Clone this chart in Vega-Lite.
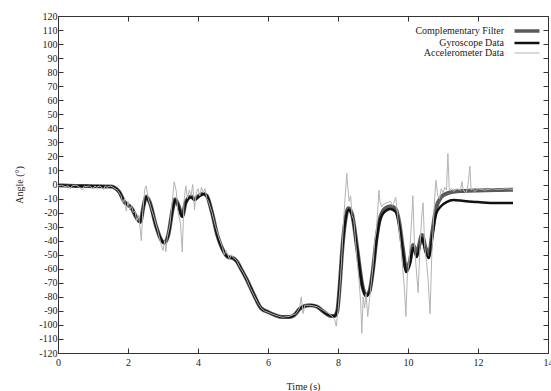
{
  "$schema": "https://vega.github.io/schema/vega-lite/v6.json",
  "width": 490,
  "height": 337,
  "autosize": {"type": "none"},
  "padding": {"left": 58, "top": 16, "right": 3, "bottom": 38},
  "background": "white",
  "config": {
    "view": {"stroke": "#333", "strokeWidth": 1},
    "font": "Liberation Serif",
    "axis": {"labelFont": "Liberation Serif", "titleFont": "Liberation Serif", "labelFontSize": 10, "titleFontSize": 10, "labelColor": "#222", "titleColor": "#222", "titleFontWeight": "normal", "domain": false, "grid": false, "tickColor": "#333", "tickSize": -5, "tickWidth": 1, "labelFlush": false, "labelOverlap": false},
    "legend": {"labelFont": "Liberation Serif", "labelFontSize": 10, "labelColor": "#222"}
  },
  "data": {"values": [
    {"s":"Complementary Filter","t":0,"v":-0.5},{"s":"Complementary Filter","t":0.5,"v":-1},{"s":"Complementary Filter","t":1.0,"v":-1.2},{"s":"Complementary Filter","t":1.5,"v":-1.5},{"s":"Complementary Filter","t":1.6,"v":-2},{"s":"Complementary Filter","t":1.75,"v":-5.3},{"s":"Complementary Filter","t":1.9,"v":-12.5},{"s":"Complementary Filter","t":2.0,"v":-14.6},{"s":"Complementary Filter","t":2.1,"v":-16.7},{"s":"Complementary Filter","t":2.25,"v":-24},{"s":"Complementary Filter","t":2.35,"v":-26.5},{"s":"Complementary Filter","t":2.45,"v":-14.5},{"s":"Complementary Filter","t":2.52,"v":-8.5},{"s":"Complementary Filter","t":2.62,"v":-12.5},{"s":"Complementary Filter","t":2.8,"v":-29.5},{"s":"Complementary Filter","t":2.95,"v":-39.5},{"s":"Complementary Filter","t":3.05,"v":-41.5},{"s":"Complementary Filter","t":3.15,"v":-36},{"s":"Complementary Filter","t":3.28,"v":-17},{"s":"Complementary Filter","t":3.35,"v":-10.5},{"s":"Complementary Filter","t":3.45,"v":-15.5},{"s":"Complementary Filter","t":3.55,"v":-22.5},{"s":"Complementary Filter","t":3.65,"v":-12.5},{"s":"Complementary Filter","t":3.8,"v":-8.5},{"s":"Complementary Filter","t":3.9,"v":-10.5},{"s":"Complementary Filter","t":4.0,"v":-8.5},{"s":"Complementary Filter","t":4.15,"v":-6.5},{"s":"Complementary Filter","t":4.25,"v":-8},{"s":"Complementary Filter","t":4.4,"v":-20},{"s":"Complementary Filter","t":4.55,"v":-36},{"s":"Complementary Filter","t":4.7,"v":-46},{"s":"Complementary Filter","t":4.85,"v":-51.6},{"s":"Complementary Filter","t":5.0,"v":-52.4},{"s":"Complementary Filter","t":5.1,"v":-54.5},{"s":"Complementary Filter","t":5.25,"v":-61},{"s":"Complementary Filter","t":5.4,"v":-68},{"s":"Complementary Filter","t":5.6,"v":-78.7},{"s":"Complementary Filter","t":5.8,"v":-88},{"s":"Complementary Filter","t":6.0,"v":-90.8},{"s":"Complementary Filter","t":6.2,"v":-93},{"s":"Complementary Filter","t":6.4,"v":-94.4},{"s":"Complementary Filter","t":6.6,"v":-94.4},{"s":"Complementary Filter","t":6.75,"v":-93},{"s":"Complementary Filter","t":6.9,"v":-88.7},{"s":"Complementary Filter","t":7.05,"v":-86.5},{"s":"Complementary Filter","t":7.2,"v":-86},{"s":"Complementary Filter","t":7.4,"v":-87},{"s":"Complementary Filter","t":7.6,"v":-90.8},{"s":"Complementary Filter","t":7.8,"v":-93.6},{"s":"Complementary Filter","t":7.9,"v":-93.6},{"s":"Complementary Filter","t":7.98,"v":-90},{"s":"Complementary Filter","t":8.05,"v":-71.6},{"s":"Complementary Filter","t":8.12,"v":-46.6},{"s":"Complementary Filter","t":8.2,"v":-27},{"s":"Complementary Filter","t":8.3,"v":-17},{"s":"Complementary Filter","t":8.4,"v":-21},{"s":"Complementary Filter","t":8.55,"v":-46},{"s":"Complementary Filter","t":8.7,"v":-72.5},{"s":"Complementary Filter","t":8.8,"v":-79},{"s":"Complementary Filter","t":8.9,"v":-76},{"s":"Complementary Filter","t":9.0,"v":-60.5},{"s":"Complementary Filter","t":9.1,"v":-38.5},{"s":"Complementary Filter","t":9.2,"v":-24},{"s":"Complementary Filter","t":9.35,"v":-17},{"s":"Complementary Filter","t":9.5,"v":-15.5},{"s":"Complementary Filter","t":9.65,"v":-17.5},{"s":"Complementary Filter","t":9.75,"v":-27},{"s":"Complementary Filter","t":9.85,"v":-45},{"s":"Complementary Filter","t":9.95,"v":-60},{"s":"Complementary Filter","t":10.05,"v":-55},{"s":"Complementary Filter","t":10.15,"v":-43},{"s":"Complementary Filter","t":10.25,"v":-49},{"s":"Complementary Filter","t":10.4,"v":-36},{"s":"Complementary Filter","t":10.5,"v":-45},{"s":"Complementary Filter","t":10.6,"v":-49},{"s":"Complementary Filter","t":10.7,"v":-33},{"s":"Complementary Filter","t":10.8,"v":-17},{"s":"Complementary Filter","t":10.95,"v":-9},{"s":"Complementary Filter","t":11.1,"v":-6.5},{"s":"Complementary Filter","t":11.3,"v":-5.2},{"s":"Complementary Filter","t":11.6,"v":-4.6},{"s":"Complementary Filter","t":12.0,"v":-4.2},{"s":"Complementary Filter","t":12.5,"v":-3.9},{"s":"Complementary Filter","t":13.0,"v":-3.7},
    {"s":"Gyroscope Data","t":0,"v":-0.5},{"s":"Gyroscope Data","t":0.5,"v":-1},{"s":"Gyroscope Data","t":1.0,"v":-1.2},{"s":"Gyroscope Data","t":1.5,"v":-1.5},{"s":"Gyroscope Data","t":1.6,"v":-2},{"s":"Gyroscope Data","t":1.75,"v":-5.3},{"s":"Gyroscope Data","t":1.9,"v":-12.5},{"s":"Gyroscope Data","t":2.0,"v":-14.6},{"s":"Gyroscope Data","t":2.1,"v":-16.7},{"s":"Gyroscope Data","t":2.25,"v":-24},{"s":"Gyroscope Data","t":2.35,"v":-27},{"s":"Gyroscope Data","t":2.45,"v":-15},{"s":"Gyroscope Data","t":2.52,"v":-9},{"s":"Gyroscope Data","t":2.62,"v":-13},{"s":"Gyroscope Data","t":2.8,"v":-29.5},{"s":"Gyroscope Data","t":2.95,"v":-39.5},{"s":"Gyroscope Data","t":3.05,"v":-41.7},{"s":"Gyroscope Data","t":3.15,"v":-36},{"s":"Gyroscope Data","t":3.28,"v":-17},{"s":"Gyroscope Data","t":3.35,"v":-11},{"s":"Gyroscope Data","t":3.45,"v":-16},{"s":"Gyroscope Data","t":3.55,"v":-23},{"s":"Gyroscope Data","t":3.65,"v":-13},{"s":"Gyroscope Data","t":3.8,"v":-9},{"s":"Gyroscope Data","t":3.9,"v":-11},{"s":"Gyroscope Data","t":4.0,"v":-9},{"s":"Gyroscope Data","t":4.15,"v":-6.8},{"s":"Gyroscope Data","t":4.25,"v":-8},{"s":"Gyroscope Data","t":4.4,"v":-20},{"s":"Gyroscope Data","t":4.55,"v":-36},{"s":"Gyroscope Data","t":4.7,"v":-46},{"s":"Gyroscope Data","t":4.85,"v":-51.6},{"s":"Gyroscope Data","t":5.0,"v":-52.4},{"s":"Gyroscope Data","t":5.1,"v":-54.5},{"s":"Gyroscope Data","t":5.25,"v":-61},{"s":"Gyroscope Data","t":5.4,"v":-68},{"s":"Gyroscope Data","t":5.6,"v":-78.7},{"s":"Gyroscope Data","t":5.8,"v":-88},{"s":"Gyroscope Data","t":6.0,"v":-90.8},{"s":"Gyroscope Data","t":6.2,"v":-93},{"s":"Gyroscope Data","t":6.4,"v":-94.4},{"s":"Gyroscope Data","t":6.6,"v":-94.4},{"s":"Gyroscope Data","t":6.75,"v":-93},{"s":"Gyroscope Data","t":6.9,"v":-88.7},{"s":"Gyroscope Data","t":7.05,"v":-86.5},{"s":"Gyroscope Data","t":7.2,"v":-86},{"s":"Gyroscope Data","t":7.4,"v":-87},{"s":"Gyroscope Data","t":7.6,"v":-90.8},{"s":"Gyroscope Data","t":7.8,"v":-93.6},{"s":"Gyroscope Data","t":7.9,"v":-93.6},{"s":"Gyroscope Data","t":7.98,"v":-90},{"s":"Gyroscope Data","t":8.05,"v":-71.6},{"s":"Gyroscope Data","t":8.12,"v":-46.6},{"s":"Gyroscope Data","t":8.2,"v":-27.4},{"s":"Gyroscope Data","t":8.3,"v":-18},{"s":"Gyroscope Data","t":8.4,"v":-21.7},{"s":"Gyroscope Data","t":8.55,"v":-46.6},{"s":"Gyroscope Data","t":8.7,"v":-73},{"s":"Gyroscope Data","t":8.8,"v":-79.4},{"s":"Gyroscope Data","t":8.9,"v":-76.6},{"s":"Gyroscope Data","t":9.0,"v":-61},{"s":"Gyroscope Data","t":9.1,"v":-39.5},{"s":"Gyroscope Data","t":9.2,"v":-25.3},{"s":"Gyroscope Data","t":9.35,"v":-19},{"s":"Gyroscope Data","t":9.5,"v":-17.5},{"s":"Gyroscope Data","t":9.65,"v":-19.6},{"s":"Gyroscope Data","t":9.75,"v":-28.8},{"s":"Gyroscope Data","t":9.85,"v":-46.6},{"s":"Gyroscope Data","t":9.95,"v":-62.3},{"s":"Gyroscope Data","t":10.05,"v":-57},{"s":"Gyroscope Data","t":10.15,"v":-45},{"s":"Gyroscope Data","t":10.25,"v":-51.6},{"s":"Gyroscope Data","t":10.4,"v":-38},{"s":"Gyroscope Data","t":10.5,"v":-48},{"s":"Gyroscope Data","t":10.6,"v":-52.4},{"s":"Gyroscope Data","t":10.7,"v":-36},{"s":"Gyroscope Data","t":10.8,"v":-21},{"s":"Gyroscope Data","t":10.95,"v":-15.3},{"s":"Gyroscope Data","t":11.1,"v":-12.5},{"s":"Gyroscope Data","t":11.3,"v":-11},{"s":"Gyroscope Data","t":11.6,"v":-11.8},{"s":"Gyroscope Data","t":12.0,"v":-12.5},{"s":"Gyroscope Data","t":12.5,"v":-13.2},{"s":"Gyroscope Data","t":13.0,"v":-13.2},
    {"s":"Accelerometer Data","t":0,"v":-1},{"s":"Accelerometer Data","t":0.1,"v":-0.5},{"s":"Accelerometer Data","t":0.2,"v":-1.5},{"s":"Accelerometer Data","t":0.3,"v":-1},{"s":"Accelerometer Data","t":0.35,"v":-3},{"s":"Accelerometer Data","t":0.4,"v":-1},{"s":"Accelerometer Data","t":0.5,"v":-0.5},{"s":"Accelerometer Data","t":0.6,"v":-1.5},{"s":"Accelerometer Data","t":0.7,"v":-4},{"s":"Accelerometer Data","t":0.75,"v":-1},{"s":"Accelerometer Data","t":0.8,"v":-1.5},{"s":"Accelerometer Data","t":0.9,"v":-1},{"s":"Accelerometer Data","t":1.0,"v":-3},{"s":"Accelerometer Data","t":1.05,"v":-1},{"s":"Accelerometer Data","t":1.1,"v":-2},{"s":"Accelerometer Data","t":1.2,"v":-1},{"s":"Accelerometer Data","t":1.3,"v":-3.5},{"s":"Accelerometer Data","t":1.35,"v":-1},{"s":"Accelerometer Data","t":1.4,"v":-2},{"s":"Accelerometer Data","t":1.5,"v":-1},{"s":"Accelerometer Data","t":1.6,"v":-2.5},{"s":"Accelerometer Data","t":1.7,"v":-4},{"s":"Accelerometer Data","t":1.8,"v":-8},{"s":"Accelerometer Data","t":1.85,"v":-13},{"s":"Accelerometer Data","t":1.9,"v":-10},{"s":"Accelerometer Data","t":1.95,"v":-19},{"s":"Accelerometer Data","t":2.0,"v":-12},{"s":"Accelerometer Data","t":2.05,"v":-18},{"s":"Accelerometer Data","t":2.1,"v":-15},{"s":"Accelerometer Data","t":2.15,"v":-20},{"s":"Accelerometer Data","t":2.2,"v":-19},{"s":"Accelerometer Data","t":2.25,"v":-26},{"s":"Accelerometer Data","t":2.3,"v":-22},{"s":"Accelerometer Data","t":2.35,"v":-32},{"s":"Accelerometer Data","t":2.38,"v":-40},{"s":"Accelerometer Data","t":2.42,"v":-20},{"s":"Accelerometer Data","t":2.48,"v":-3},{"s":"Accelerometer Data","t":2.52,"v":-1},{"s":"Accelerometer Data","t":2.58,"v":-10},{"s":"Accelerometer Data","t":2.65,"v":-16},{"s":"Accelerometer Data","t":2.75,"v":-24},{"s":"Accelerometer Data","t":2.85,"v":-33},{"s":"Accelerometer Data","t":2.95,"v":-43},{"s":"Accelerometer Data","t":3.0,"v":-47},{"s":"Accelerometer Data","t":3.05,"v":-40},{"s":"Accelerometer Data","t":3.08,"v":-48},{"s":"Accelerometer Data","t":3.12,"v":-38},{"s":"Accelerometer Data","t":3.2,"v":-28},{"s":"Accelerometer Data","t":3.28,"v":-8},{"s":"Accelerometer Data","t":3.32,"v":2},{"s":"Accelerometer Data","t":3.38,"v":-5},{"s":"Accelerometer Data","t":3.42,"v":-18},{"s":"Accelerometer Data","t":3.5,"v":-28},{"s":"Accelerometer Data","t":3.55,"v":-48},{"s":"Accelerometer Data","t":3.6,"v":-12},{"s":"Accelerometer Data","t":3.65,"v":-1},{"s":"Accelerometer Data","t":3.7,"v":-10},{"s":"Accelerometer Data","t":3.75,"v":-4},{"s":"Accelerometer Data","t":3.8,"v":-8},{"s":"Accelerometer Data","t":3.85,"v":0},{"s":"Accelerometer Data","t":3.9,"v":-18},{"s":"Accelerometer Data","t":3.95,"v":-6},{"s":"Accelerometer Data","t":4.0,"v":-3},{"s":"Accelerometer Data","t":4.05,"v":-8},{"s":"Accelerometer Data","t":4.1,"v":-2},{"s":"Accelerometer Data","t":4.15,"v":-6},{"s":"Accelerometer Data","t":4.2,"v":-3},{"s":"Accelerometer Data","t":4.25,"v":-10},{"s":"Accelerometer Data","t":4.3,"v":-12},{"s":"Accelerometer Data","t":4.4,"v":-20},{"s":"Accelerometer Data","t":4.5,"v":-30},{"s":"Accelerometer Data","t":4.6,"v":-38},{"s":"Accelerometer Data","t":4.7,"v":-45},{"s":"Accelerometer Data","t":4.75,"v":-50},{"s":"Accelerometer Data","t":4.8,"v":-47},{"s":"Accelerometer Data","t":4.9,"v":-53},{"s":"Accelerometer Data","t":4.95,"v":-50},{"s":"Accelerometer Data","t":5.0,"v":-52},{"s":"Accelerometer Data","t":5.1,"v":-54},{"s":"Accelerometer Data","t":5.2,"v":-59},{"s":"Accelerometer Data","t":5.3,"v":-63},{"s":"Accelerometer Data","t":5.4,"v":-68},{"s":"Accelerometer Data","t":5.5,"v":-74},{"s":"Accelerometer Data","t":5.6,"v":-79},{"s":"Accelerometer Data","t":5.7,"v":-84},{"s":"Accelerometer Data","t":5.8,"v":-88},{"s":"Accelerometer Data","t":5.9,"v":-90},{"s":"Accelerometer Data","t":6.0,"v":-91},{"s":"Accelerometer Data","t":6.2,"v":-93},{"s":"Accelerometer Data","t":6.4,"v":-94.5},{"s":"Accelerometer Data","t":6.6,"v":-94},{"s":"Accelerometer Data","t":6.8,"v":-92},{"s":"Accelerometer Data","t":6.9,"v":-88},{"s":"Accelerometer Data","t":6.95,"v":-80},{"s":"Accelerometer Data","t":7.0,"v":-92},{"s":"Accelerometer Data","t":7.05,"v":-86},{"s":"Accelerometer Data","t":7.2,"v":-86},{"s":"Accelerometer Data","t":7.4,"v":-87},{"s":"Accelerometer Data","t":7.6,"v":-90},{"s":"Accelerometer Data","t":7.8,"v":-93},{"s":"Accelerometer Data","t":7.9,"v":-96},{"s":"Accelerometer Data","t":7.95,"v":-101},{"s":"Accelerometer Data","t":8.0,"v":-90},{"s":"Accelerometer Data","t":8.05,"v":-75},{"s":"Accelerometer Data","t":8.1,"v":-55},{"s":"Accelerometer Data","t":8.15,"v":-30},{"s":"Accelerometer Data","t":8.2,"v":-10},{"s":"Accelerometer Data","t":8.25,"v":8},{"s":"Accelerometer Data","t":8.28,"v":-2},{"s":"Accelerometer Data","t":8.32,"v":-12},{"s":"Accelerometer Data","t":8.36,"v":-8},{"s":"Accelerometer Data","t":8.4,"v":-22},{"s":"Accelerometer Data","t":8.45,"v":-25},{"s":"Accelerometer Data","t":8.5,"v":-40},{"s":"Accelerometer Data","t":8.55,"v":-55},{"s":"Accelerometer Data","t":8.6,"v":-68},{"s":"Accelerometer Data","t":8.65,"v":-85},{"s":"Accelerometer Data","t":8.68,"v":-106},{"s":"Accelerometer Data","t":8.72,"v":-80},{"s":"Accelerometer Data","t":8.76,"v":-88},{"s":"Accelerometer Data","t":8.8,"v":-78},{"s":"Accelerometer Data","t":8.85,"v":-94},{"s":"Accelerometer Data","t":8.9,"v":-82},{"s":"Accelerometer Data","t":8.95,"v":-70},{"s":"Accelerometer Data","t":9.0,"v":-58},{"s":"Accelerometer Data","t":9.05,"v":-40},{"s":"Accelerometer Data","t":9.1,"v":-32},{"s":"Accelerometer Data","t":9.17,"v":-4},{"s":"Accelerometer Data","t":9.2,"v":-12},{"s":"Accelerometer Data","t":9.25,"v":-16},{"s":"Accelerometer Data","t":9.3,"v":-14},{"s":"Accelerometer Data","t":9.4,"v":-13},{"s":"Accelerometer Data","t":9.5,"v":-12},{"s":"Accelerometer Data","t":9.55,"v":-15},{"s":"Accelerometer Data","t":9.6,"v":-13},{"s":"Accelerometer Data","t":9.65,"v":-9},{"s":"Accelerometer Data","t":9.7,"v":-22},{"s":"Accelerometer Data","t":9.78,"v":-40},{"s":"Accelerometer Data","t":9.85,"v":-60},{"s":"Accelerometer Data","t":9.9,"v":-75},{"s":"Accelerometer Data","t":9.94,"v":-94},{"s":"Accelerometer Data","t":9.98,"v":-65},{"s":"Accelerometer Data","t":10.03,"v":-55},{"s":"Accelerometer Data","t":10.08,"v":-35},{"s":"Accelerometer Data","t":10.14,"v":-8},{"s":"Accelerometer Data","t":10.18,"v":-40},{"s":"Accelerometer Data","t":10.22,"v":-55},{"s":"Accelerometer Data","t":10.29,"v":-77},{"s":"Accelerometer Data","t":10.34,"v":-45},{"s":"Accelerometer Data","t":10.4,"v":-20},{"s":"Accelerometer Data","t":10.43,"v":-13},{"s":"Accelerometer Data","t":10.48,"v":-45},{"s":"Accelerometer Data","t":10.53,"v":-55},{"s":"Accelerometer Data","t":10.58,"v":-70},{"s":"Accelerometer Data","t":10.63,"v":-92},{"s":"Accelerometer Data","t":10.68,"v":-50},{"s":"Accelerometer Data","t":10.72,"v":-30},{"s":"Accelerometer Data","t":10.76,"v":-10},{"s":"Accelerometer Data","t":10.8,"v":3},{"s":"Accelerometer Data","t":10.85,"v":-8},{"s":"Accelerometer Data","t":10.9,"v":-10},{"s":"Accelerometer Data","t":10.95,"v":-3},{"s":"Accelerometer Data","t":11.0,"v":-6},{"s":"Accelerometer Data","t":11.05,"v":-2},{"s":"Accelerometer Data","t":11.1,"v":-4},{"s":"Accelerometer Data","t":11.14,"v":22},{"s":"Accelerometer Data","t":11.18,"v":-4},{"s":"Accelerometer Data","t":11.25,"v":-3},{"s":"Accelerometer Data","t":11.3,"v":-5},{"s":"Accelerometer Data","t":11.4,"v":-3},{"s":"Accelerometer Data","t":11.5,"v":-4},{"s":"Accelerometer Data","t":11.54,"v":2},{"s":"Accelerometer Data","t":11.58,"v":-4},{"s":"Accelerometer Data","t":11.65,"v":-6},{"s":"Accelerometer Data","t":11.7,"v":-3},{"s":"Accelerometer Data","t":11.77,"v":13},{"s":"Accelerometer Data","t":11.8,"v":-4},{"s":"Accelerometer Data","t":11.85,"v":-3},{"s":"Accelerometer Data","t":11.9,"v":-5},{"s":"Accelerometer Data","t":12.0,"v":-3},{"s":"Accelerometer Data","t":12.2,"v":-4},{"s":"Accelerometer Data","t":12.4,"v":-3},{"s":"Accelerometer Data","t":12.6,"v":-3.5},{"s":"Accelerometer Data","t":12.8,"v":-3},{"s":"Accelerometer Data","t":13.0,"v":-3.5}
  ]},
  "resolve": {"scale": {"x": "independent", "y": "independent"}},
  "layer": [
    {
      "encoding": {
        "x": {"field": "t", "type": "quantitative", "scale": {"domain": [0, 14], "nice": false}, "axis": {"title": "Time (s)", "values": [0,2,4,6,8,10,12,14], "labelPadding": 9, "titlePadding": 14, "labelExpr": "'' + datum.value"}},
        "y": {"field": "v", "type": "quantitative", "scale": {"domain": [-120, 120], "nice": false}, "axis": {"title": "Angle (°)", "values": [-120,-110,-100,-90,-80,-70,-60,-50,-40,-30,-20,-10,0,10,20,30,40,50,60,70,80,90,100,110,120], "labelPadding": 6, "titlePadding": 14, "labelExpr": "'' + datum.value"}},
        "color": {"field": "s", "type": "nominal", "scale": {"domain": ["Complementary Filter", "Gyroscope Data", "Accelerometer Data"], "range": ["#5a5a5a", "#111111", "#b4b4b4"]},
          "legend": {"title": null, "orient": "none", "legendX": 464, "legendY": 10, "symbolType": "stroke", "symbolSize": 625, "labelAlign": "right", "labelOffset": -28, "rowPadding": 0, "padding": 0,
            "encode": {"symbols": {"update": {"strokeWidth": {"signal": "datum.value === 'Complementary Filter' ? 3.5 : datum.value === 'Gyroscope Data' ? 2.5 : 1"}}}}}}
      },
      "layer": [
        {"transform": [{"filter": "datum.s === 'Complementary Filter'"}], "mark": {"type": "line", "strokeWidth": 4, "interpolate": "monotone", "clip": true}},
        {"transform": [{"filter": "datum.s === 'Gyroscope Data'"}], "mark": {"type": "line", "strokeWidth": 2.5, "interpolate": "monotone", "clip": true}},
        {"transform": [{"filter": "datum.s === 'Accelerometer Data'"}], "mark": {"type": "line", "strokeWidth": 1, "clip": true}}
      ]
    },
    {
      "transform": [{"filter": "datum.t === 0"}],
      "mark": {"type": "point", "opacity": 0},
      "encoding": {
        "x": {"field": "t", "type": "quantitative", "scale": {"domain": [0, 14], "nice": false}, "axis": {"orient": "top", "title": null, "labels": false, "values": [0,2,4,6,8,10,12,14]}},
        "y": {"field": "v", "type": "quantitative", "scale": {"domain": [-120, 120], "nice": false}, "axis": {"orient": "right", "title": null, "labels": false, "values": [-120,-110,-100,-90,-80,-70,-60,-50,-40,-30,-20,-10,0,10,20,30,40,50,60,70,80,90,100,110,120]}}
      }
    }
  ]
}
